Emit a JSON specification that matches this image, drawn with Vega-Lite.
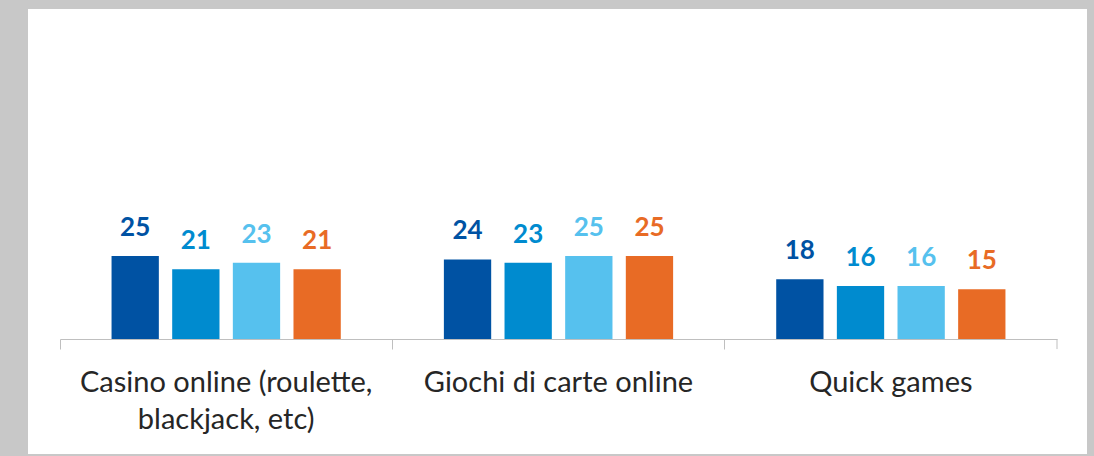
{
  "$schema": "https://vega.github.io/schema/vega-lite/v6.json",
  "autosize": "none",
  "width": 1059,
  "height": 445,
  "padding": {"left": 28, "top": 9, "right": 7, "bottom": 2},
  "background": "#c8c8c8",
  "config": {"view": {"fill": "white", "stroke": null}},
  "data": {"values": [
    {"cat": "Casino online (roulette, blackjack, etc)", "serie": "Serie 1", "value": 25},
    {"cat": "Casino online (roulette, blackjack, etc)", "serie": "Serie 2", "value": 21},
    {"cat": "Casino online (roulette, blackjack, etc)", "serie": "Serie 3", "value": 23},
    {"cat": "Casino online (roulette, blackjack, etc)", "serie": "Serie 4", "value": 21},
    {"cat": "Giochi di carte online", "serie": "Serie 1", "value": 24},
    {"cat": "Giochi di carte online", "serie": "Serie 2", "value": 23},
    {"cat": "Giochi di carte online", "serie": "Serie 3", "value": 25},
    {"cat": "Giochi di carte online", "serie": "Serie 4", "value": 25},
    {"cat": "Quick games", "serie": "Serie 1", "value": 18},
    {"cat": "Quick games", "serie": "Serie 2", "value": 16},
    {"cat": "Quick games", "serie": "Serie 3", "value": 16},
    {"cat": "Quick games", "serie": "Serie 4", "value": 15}
  ]},
  "encoding": {
    "x": {
      "field": "cat", "type": "nominal", "sort": null,
      "scale": {"range": [32, 1029], "paddingInner": 0, "paddingOuter": 0},
      "axis": {
        "title": null, "offset": -115, "labelAngle": 0,
        "domainColor": "#BFBFBF", "domainWidth": 1,
        "tickColor": "#BFBFBF", "tickSize": 10, "tickWidth": 1, "bandPosition": 0,
        "labelFont": "Lato", "labelFontSize": 29, "labelColor": "#262626",
        "labelPadding": 19, "labelLimit": 500, "labelLineHeight": 37,
        "labelExpr": "datum.label == 'Casino online (roulette, blackjack, etc)' ? ['Casino online (roulette,', 'blackjack, etc)'] : datum.label"
      }
    }
  },
  "layer": [
    {
      "mark": {"type": "bar"},
      "encoding": {
        "xOffset": {"field": "serie", "type": "nominal", "scale": {"paddingInner": 0.22, "paddingOuter": 0.85}},
        "y": {"field": "value", "type": "quantitative", "scale": {"domain": [-34.6, 99.4], "nice": false, "zero": false}, "axis": null},
        "color": {"field": "serie", "type": "nominal", "legend": null,
          "scale": {"domain": ["Serie 1", "Serie 2", "Serie 3", "Serie 4"], "range": ["#0052A3", "#008BCF", "#56C1EE", "#E86B25"]}}
      }
    },
    {
      "mark": {"type": "text", "baseline": "alphabetic", "dy": -20, "font": "Lato", "fontSize": 26, "fontWeight": "bold"},
      "encoding": {
        "xOffset": {"field": "serie", "type": "nominal", "scale": {"paddingInner": 0.22, "paddingOuter": 0.85}},
        "y": {"field": "value", "type": "quantitative"},
        "text": {"field": "value", "type": "quantitative"},
        "color": {"field": "serie", "type": "nominal", "legend": null}
      }
    },
    {
      "transform": [{"filter": "datum.cat == 'Quick games' && datum.serie == 'Serie 1'"}],
      "mark": {"type": "rule", "color": "#BFBFBF", "strokeWidth": 1},
      "encoding": {
        "x": {"field": "cat", "type": "nominal", "sort": null, "bandPosition": 1},
        "y": {"datum": 0, "type": "quantitative"},
        "y2": {"datum": -3.01}
      }
    }
  ]
}
